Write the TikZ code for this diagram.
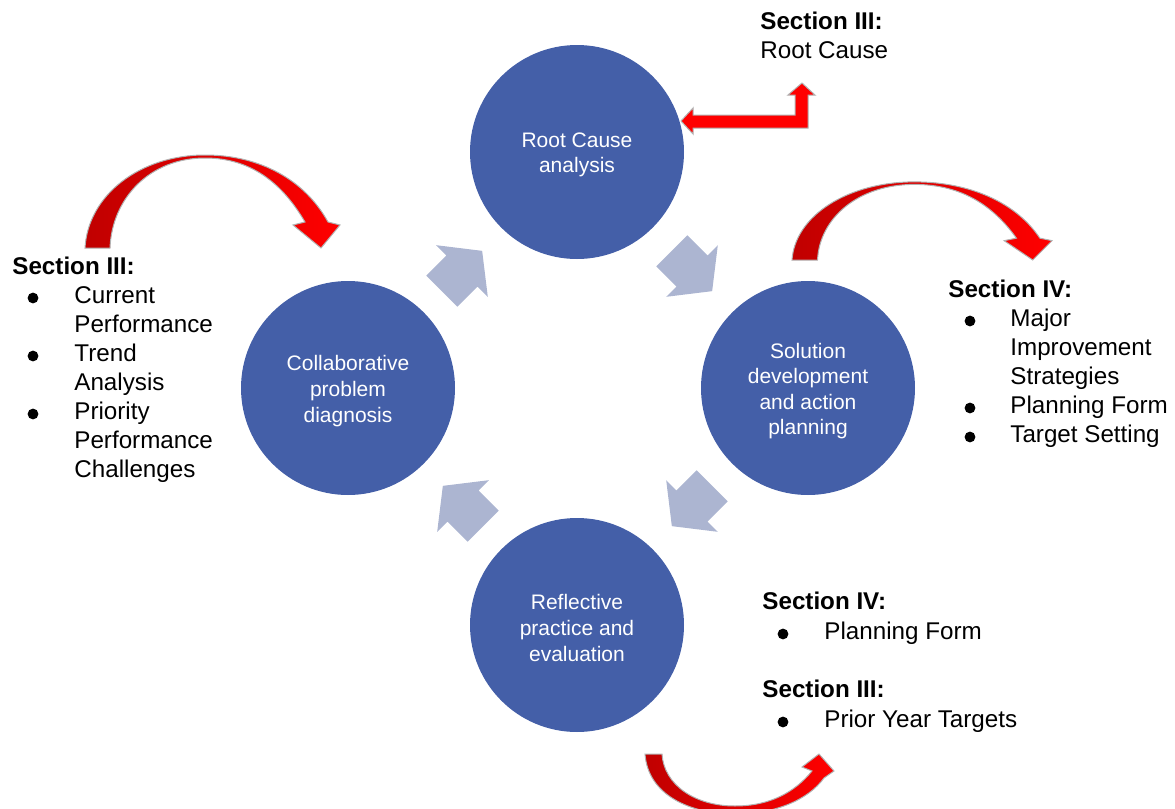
\documentclass[tikz,border=0pt]{standalone}
\usepackage{fontspec}
\setmainfont{Liberation Sans}

\definecolor{cycleblue}{RGB}{68,95,168}
\definecolor{steparrow}{RGB}{172,181,209}
\definecolor{darkred}{RGB}{192,0,0}
\definecolor{brightred}{RGB}{255,0,0}

\tikzset{
  phase/.style={circle, fill=cycleblue, minimum size=107pt, inner sep=0pt,
    align=center, text=white, font=\fontsize{10.5}{12.8}\selectfont},
  phasetext/.style={align=center, text=white, inner sep=0pt, yshift=-1.5pt,
    font=\fontsize{10.5}{12.8}\selectfont},
  head/.style={anchor=base west, inner sep=0pt, font=\fontsize{12.1}{14.5}\selectfont\bfseries},
  entry/.style={anchor=base west, inner sep=0pt, font=\fontsize{12.1}{14.5}\selectfont},
  redarrow/.style={draw=gray!60, line width=0.5pt, left color=darkred, right color=brightred},
}

% curved red arrow, origin at the outer foot
\newcommand{\bendarrow}{%
  (0,0) .. controls (3,-53) and (55,-93) .. (120,-93)
        .. controls (175,-93) and (220,-68) .. (243,-26)
  -- (255,-23) -- (236,0) -- (208,-23) -- (220,-26)
        .. controls (200,-60) and (170,-90) .. (120,-90)
        .. controls (65,-90) and (27,-50) .. (25,0) -- cycle}

\begin{document}
\begin{tikzpicture}[x=0.5pt, y=-0.5pt]
  \useasboundingbox (0,0) rectangle (1175,809);
  \clip (0,0) rectangle (1175,809);

  % the four phases
  \node[phase] (rca) at (577,152) {};
  \node[phase] (cpd) at (348,388) {};
  \node[phase] (sdp) at (808,388) {};
  \node[phase] (rpe) at (577,625) {};
  \node[phasetext] (rcatext) at (rca) {Root Cause\\analysis};
  \node[phasetext] (cpdtext) at (cpd) {Collaborative\\problem\\diagnosis};
  \node[phasetext] (sdptext) at (sdp) {Solution\\development\\and action\\planning};
  \node[phasetext] (rpetext) at (rpe) {Reflective\\practice and\\evaluation};

  % cycle arrows
  \foreach \x/\y/\a in {462/271/45, 692/271/-45, 692/506/-135, 463/506/135}
    \fill[steparrow, shift={(\x,\y)}, rotate=\a]
      (-28.5,-22) -- (0,-22) -- (0,-36.5) -- (28.5,0) -- (0,36.5) -- (0,22) -- (-28.5,22) -- cycle;

  % red arrows
  \path[redarrow, shift={(85,248)}] \bendarrow;
  \path[redarrow, shift={(792,260)}, xscale=1.02, yscale=0.84] \bendarrow;
  \path[redarrow] (645,754) .. controls (648,795) and (690,814) .. (735,814)
        .. controls (775,814) and (808,800) .. (824,778)
    -- (834,771) -- (819,754) -- (802,767) -- (812,771)
        .. controls (795,792) and (770,806) .. (735,806)
        .. controls (695,806) and (664,785) .. (662,754) -- cycle;
  \path[draw=gray!60, line width=0.5pt, fill=brightred]
    (681,121) -- (693,108) -- (693,115) -- (795,115) -- (795,95) -- (788,95)
    -- (802,83) -- (815,95) -- (808,95) -- (808,128) -- (693,128) -- (693,134) -- cycle;

  % Root Cause section
  \node[head] (s3top) at (760,29) {Section III:};
  \node[entry] (rctop) at (760,58) {Root Cause};

  % left list
  \node[head] (s3left) at (12,274) {Section III:};
  \foreach \txt [count=\i from 0] in {Current, Performance, Trend, Analysis, Priority, Performance, Challenges}
    \node[entry] (left\i) at (74,303+29*\i) {\txt};
  \foreach \i in {0,2,4}
    \fill (33,298+29*\i) circle[radius=2.7pt];

  % right list
  \node[head] (s4right) at (948,297) {Section IV:};
  \foreach \txt [count=\i from 0] in {Major, Improvement, Strategies, Planning Form, Target Setting}
    \node[entry] (right\i) at (1010,326+29*\i) {\txt};
  \foreach \i in {0,3,4}
    \fill (970,321+29*\i) circle[radius=2.7pt];

  % bottom list
  \node[head] (s4low) at (762,609) {Section IV:};
  \node[entry] (planlow) at (824,639) {Planning Form};
  \fill (783,634) circle[radius=2.7pt];
  \node[head] (s3low) at (762,697) {Section III:};
  \node[entry] (priorlow) at (824,727) {Prior Year Targets};
  \fill (783,722) circle[radius=2.7pt];
\end{tikzpicture}
\end{document}
